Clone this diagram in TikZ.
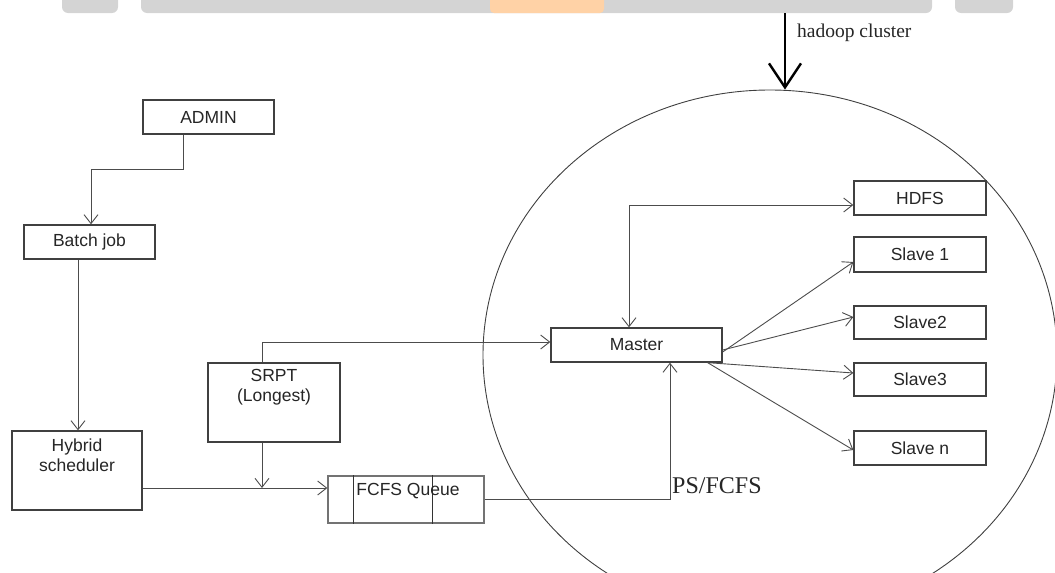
\documentclass[tikz,border=0pt]{standalone}
\usepackage{fontspec}
\setmainfont{Liberation Serif}
\newfontfamily\arialf{Liberation Sans}
\usetikzlibrary{arrows.meta,shapes.geometric}
\begin{document}
\begin{tikzpicture}[x=1pt,y=-1pt,
  box/.style={draw=black!75, line width=1.3pt, inner sep=0pt, fill=white,
    font=\arialf\fontsize{17.5}{20}\selectfont, text=black!85},
  lab/.style={font=\arialf\fontsize{17.5}{20}\selectfont, text=black!85, align=center, inner sep=0pt},
  conn/.style={draw=black!70, line width=0.9pt, -{Straight Barb[length=9pt,width=14pt]}},
  barb/.tip={Straight Barb[length=9pt,width=14pt]},
]
\useasboundingbox (0,0) rectangle (1055,573);
\clip (0,0) rectangle (1055,573);
% watermark band at the top
\fill[black!17, rounded corners=6pt] (62,-10) rectangle (118,13);
\fill[black!17, rounded corners=6pt] (141,-10) rectangle (932,13);
\fill[orange!35, rounded corners=4pt] (490,-10) rectangle (604,13);
\fill[black!17, rounded corners=6pt] (955,-10) rectangle (1013,13);

% cluster
\node[draw=black!75, line width=0.9pt, ellipse, minimum width=574pt, minimum height=530pt, inner sep=0pt] (cluster) at (770,355) {};
\coordinate (src) at (785,13);
\draw[line width=2.4pt, -{Straight Barb[length=24pt,width=32pt]}] (src) -- (src |- cluster.north);
\node[anchor=west, font=\fontsize{19.5}{24}\selectfont, inner sep=0pt, text=black!85] (hc) at (797,33) {hadoop cluster};

% boxes
\node[box, minimum width=131pt, minimum height=34pt] (admin) at (208.5,117) {ADMIN};
\node[box, minimum width=131pt, minimum height=34pt] (batch) at (89.5,242) {Batch job};
\node[box, minimum width=130pt, minimum height=79pt,
  label={[lab,yshift=15pt]center:{Hybrid\\scheduler}}] (hybrid) at (77,470.5) {};
\node[box, minimum width=132pt, minimum height=79pt,
  label={[lab,yshift=15pt]center:{SRPT\\(Longest)}}] (srpt) at (274,402.5) {};
\node[box, draw=black!55, minimum width=156pt, minimum height=47pt] (fcfs) at (406,499.5) {};
\draw[black!80, line width=1.3pt] ([xshift=26pt]fcfs.north west) -- ([xshift=26pt]fcfs.south west);
\draw[black!80, line width=1.3pt] ([xshift=105pt]fcfs.north west) -- ([xshift=105pt]fcfs.south west);
\node[lab] (fcfstxt) at ([xshift=2pt,yshift=8.5pt]fcfs.center) {FCFS Queue};

\node[box, minimum width=171pt, minimum height=34pt] (master) at (636.5,345) {Master};
\node[box, minimum width=132pt, minimum height=34pt] (hdfs) at (920,198) {HDFS};
\node[box, minimum width=132pt, minimum height=35pt] (slave1) at (920,254.5) {Slave 1};
\node[box, minimum width=132pt, minimum height=33pt] (slave2) at (920,322.5) {Slave2};
\node[box, minimum width=132pt, minimum height=33pt] (slave3) at (920,379.5) {Slave3};
\node[box, minimum width=132pt, minimum height=34pt] (slaven) at (920,448) {Slave n};

\node[anchor=west, font=\fontsize{24}{28}\selectfont, inner sep=0pt, text=black!85] (ps) at (672,486) {PS/FCFS};

% connectors
\draw[conn] ([xshift=-25.5pt]admin.south) -- ++(0,35) -| ([xshift=1.5pt]batch.north);
\draw[conn] ([xshift=-11.5pt]batch.south) -- ([xshift=-11.5pt]batch.south |- hybrid.north);
\coordinate (jn) at (262,488);
\draw[conn] ([yshift=-17.5pt]hybrid.east) -- ([yshift=-17.5pt]hybrid.east -| fcfs.west);
\draw[conn] ([xshift=-12pt]srpt.south) -- (jn);
\draw[conn] ([xshift=-12pt]srpt.north) |- ([yshift=3pt]master.west);
\draw[conn] (fcfs.east) -| ([xshift=33.5pt]master.south);
\draw[conn, barb-barb] ([xshift=-7.5pt]master.north) |- ([yshift=-7pt]hdfs.west);
\draw[conn] ([yshift=-7pt]master.east) -- ([yshift=-7.5pt]slave1.west);
\draw[conn] ([yshift=-5pt]master.east) -- ([yshift=5.5pt]slave2.west);
\draw[conn] ([xshift=-15pt]master.south east) -- ([yshift=6.5pt]slave3.west);
\draw[conn] ([xshift=-15pt]master.south east) -- ([yshift=-2pt]slaven.west);
\end{tikzpicture}
\end{document}
